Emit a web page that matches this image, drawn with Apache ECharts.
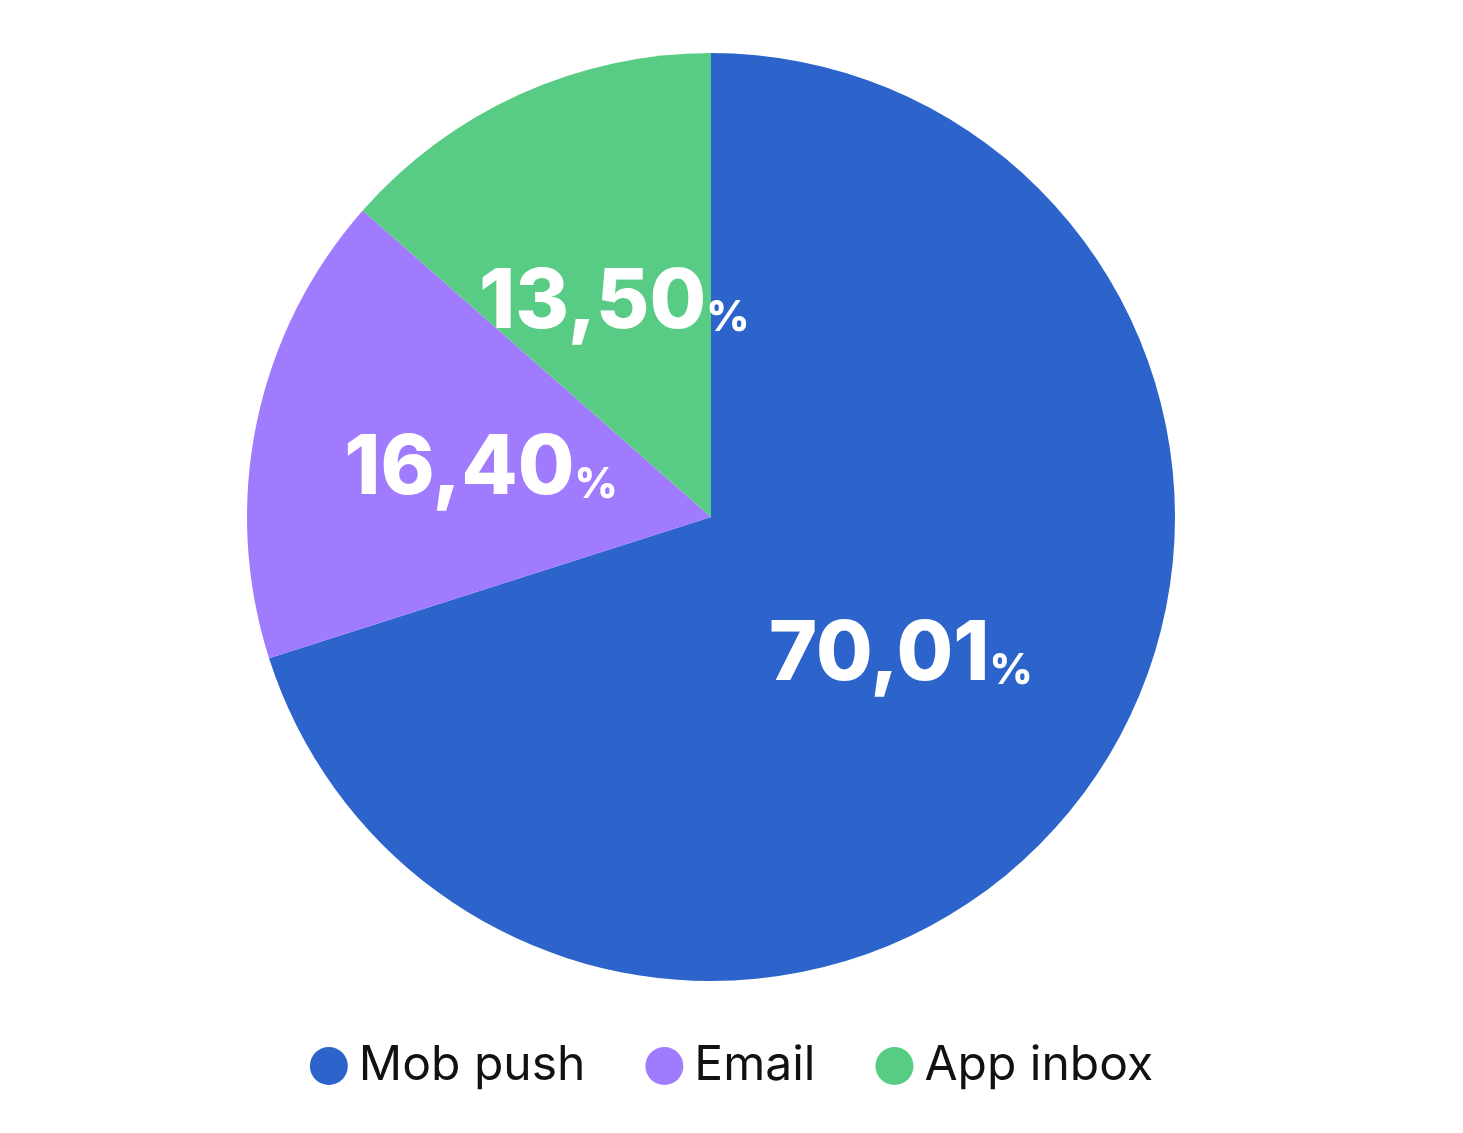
<!DOCTYPE html>
<html><head><meta charset="utf-8">
<script src="https://cdn.jsdelivr.net/npm/echarts@6/dist/echarts.min.js"></script>
<style>html,body{margin:0;background:#fff}#c{width:1463px;height:1133px}</style>
</head><body><div id="c"></div>
<script>
const categories = ['Mob push', 'Email', 'App inbox'];
const values = [70.01, 16.40, 13.50];
const colors = ['#2d64cb', '#a17bfd', '#58cc84'];
const chart = echarts.init(document.getElementById('c'));
chart.setOption({
  animation: false,
  color: colors,
  legend: {
    bottom: 38, left: 'center', icon: 'circle', itemWidth: 38, itemHeight: 38, itemGap: 60,
    textStyle: { fontFamily: 'Inter', fontSize: 48, color: '#111', padding: [0, 0, 0, 6] },
    data: categories
  },
  series: [{
    type: 'pie', center: [711, 517], radius: 464, startAngle: 90, clockwise: true,
    data: categories.map((n, i) => ({ name: n, value: values[i] })),
    label: {
      show: true, position: 'inside',
      formatter: p => '{a|' + p.value.toFixed(2).replace('.', ',') + '}{b|%}',
      rich: {
        a: { fontFamily: 'Inter', fontWeight: 800, fontSize: 82, color: '#fff' },
        b: { fontFamily: 'Inter', fontWeight: 800, fontSize: 42, color: '#fff', verticalAlign: 'bottom', padding: [0, 0, 4, 0] }
      }
    },
    labelLine: { show: false },
    itemStyle: { borderWidth: 0 },
    emphasis: { disabled: true }
  }]
});
</script></body></html>
